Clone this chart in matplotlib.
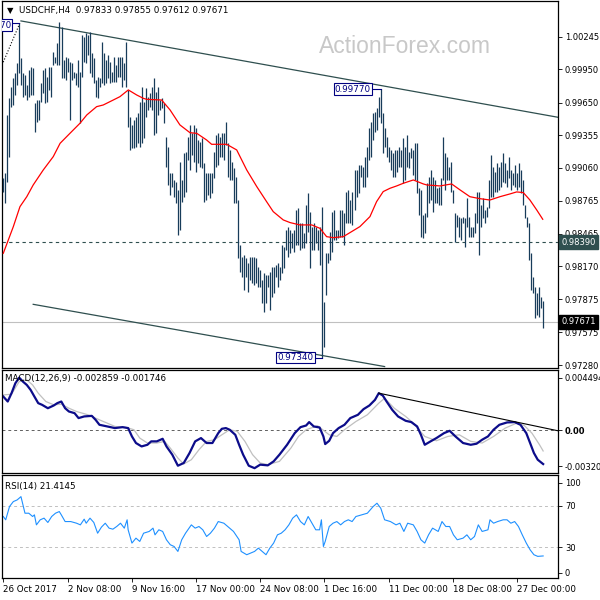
import matplotlib
matplotlib.use("Agg")
import matplotlib.pyplot as plt
import matplotlib.transforms as mtransforms

plt.rcParams['font.family'] = ['DejaVu Sans']

# H4 bars (high / low), left to right
bar_high = [
    0.98966, 0.99011, 0.99538, 0.99688, 0.99794, 0.99869, 0.99914, 1.00004, 1.00370, 1.00050,
    0.99914, 0.99899, 0.99809, 0.99944, 0.99974, 0.99959, 0.99643, 0.99673, 0.99673, 0.99824,
    0.99944, 0.99959, 0.99884, 0.99974, 0.99974, 1.00110, 1.00065, 1.00185, 1.00375, 1.00335,
    1.00034, 1.00065, 1.00050, 1.00019, 1.00004, 0.99929, 0.99914, 1.00034, 0.99929, 1.00260,
    1.00245, 1.00275, 1.00260, 1.00290, 1.00095, 1.00050, 0.99854, 0.99884, 0.99869, 1.00200,
    1.00095, 1.00034, 1.00080, 1.00019, 0.99929, 1.00065, 0.99989, 1.00065, 1.00065, 1.00065,
    1.00004, 1.00200, 0.99764, 0.99523, 0.99448, 0.99493, 0.99523, 0.99553, 0.99658, 0.99794,
    0.99658, 0.99779, 0.99703, 0.99733, 0.99794, 0.99869, 0.99749, 0.99794, 0.99673,
    0.99688, 0.99643, 0.99342, 0.99252, 0.99011, 0.99011, 0.98951, 0.98936, 0.98861, 0.99116,
    0.98951, 0.99192, 0.99207, 0.99342, 0.99448, 0.99372, 0.99448, 0.99417, 0.99312, 0.99297,
    0.99327, 0.99101, 0.99011, 0.99011, 0.99011, 0.99011, 0.99207, 0.99357, 0.99372, 0.99342,
    0.99372, 0.99372, 0.99478, 0.99282, 0.99222, 0.99116, 0.99056, 0.98981, 0.98770, 0.98364,
    0.98259, 0.98274, 0.98244, 0.98198, 0.98259, 0.98259, 0.98259, 0.98244, 0.98168, 0.98138,
    0.98048, 0.98108, 0.98093, 0.98093, 0.98123, 0.98168, 0.98168, 0.98183, 0.98198, 0.98168, 0.98364,
    0.98349, 0.98499, 0.98530, 0.98499, 0.98469, 0.98499, 0.98680, 0.98695, 0.98560,
    0.98560, 0.98469, 0.98725, 0.98831, 0.98665, 0.98530, 0.98560, 0.98530, 0.98499, 0.98530,
    0.98710, 0.97852, 0.98289, 0.98289, 0.98484, 0.98665, 0.98680, 0.98499, 0.98499, 0.98680,
    0.98680, 0.98650, 0.98846, 0.98861, 0.98770, 0.98846, 0.99041, 0.99041, 0.99086, 0.99086,
    0.99071, 0.99162, 0.99252, 0.99417, 0.99478, 0.99553, 0.99568, 0.99598, 0.99703, 0.99770,
    0.99553, 0.99417, 0.99342, 0.99252, 0.99222, 0.99192, 0.99222, 0.99222, 0.99252, 0.99222,
    0.99327, 0.99252, 0.99357, 0.99207, 0.99237, 0.99222, 0.99282, 0.99282, 0.98876, 0.98861, 0.98635,
    0.98650, 0.98921, 0.98981, 0.99041, 0.98981, 0.98951, 0.98876, 0.98891,
    0.98966, 0.99342, 0.99192, 0.99162, 0.99071, 0.99116, 0.98861, 0.98650, 0.98635, 0.98620,
    0.98605, 0.98620, 0.98605, 0.98785, 0.98620, 0.98530, 0.98530, 0.98650, 0.98846, 0.98846,
    0.98725, 0.98785, 0.98680, 0.98710, 0.98951, 0.99177, 0.99071, 0.99026, 0.99101, 0.99071,
    0.99116, 0.99192, 0.99101, 0.99041, 0.99162, 0.99041, 0.99011, 0.99086, 0.99011, 0.99101,
    0.99041, 0.98951, 0.98725, 0.98620, 0.98560, 0.98289, 0.98078, 0.97988, 0.97928, 0.97988,
    0.97897, 0.97855,
]
bar_low = [
    0.98846, 0.98746, 0.98936, 0.99162, 0.99613, 0.99628, 0.99718, 0.99809, 0.99914, 0.99809,
    0.99703, 0.99718, 0.99673, 0.99703, 0.99718, 0.99718, 0.99387, 0.99478, 0.99493, 0.99658,
    0.99733, 0.99643, 0.99658, 0.99764, 0.99703, 0.99989, 1.00004, 0.99989, 0.99989, 0.99869,
    0.99869, 0.99854, 0.99929, 0.99493, 0.99854, 0.99869, 0.99809, 0.99794, 0.99463, 0.99884,
    1.00019, 1.00004, 1.00080, 0.99914, 0.99884, 0.99824, 0.99703, 0.99688, 0.99794, 0.99824,
    0.99809, 0.99824, 0.99869, 0.99824, 0.99839, 0.99839, 0.99839, 0.99884, 0.99884, 0.99794,
    0.99854, 0.99794, 0.99432, 0.99222, 0.99237, 0.99237, 0.99252, 0.99282, 0.99252, 0.99282,
    0.99327, 0.99523, 0.99583, 0.99613, 0.99583, 0.99357, 0.99372, 0.99538, 0.99583,
    0.99598, 0.99463, 0.99071, 0.98906, 0.98815, 0.98891, 0.98800, 0.98740, 0.98454, 0.98499,
    0.98755, 0.98800, 0.98846, 0.99131, 0.99041, 0.99177, 0.99116, 0.99026, 0.99101, 0.99071,
    0.99056, 0.98755, 0.98770, 0.98815, 0.98785, 0.98831, 0.98966, 0.99071, 0.99086, 0.99162,
    0.99162, 0.99131, 0.99267, 0.98981, 0.98951, 0.98951, 0.98740, 0.98740, 0.98244, 0.98123,
    0.98078, 0.97958, 0.98078, 0.97943, 0.98048, 0.98018, 0.98003, 0.98018, 0.97988, 0.97988,
    0.97837, 0.97762, 0.97837, 0.97988, 0.97777, 0.97897, 0.97928, 0.98078, 0.97988, 0.98048, 0.98108,
    0.98153, 0.98319, 0.98259, 0.98289, 0.98334, 0.98304, 0.98364, 0.98364, 0.98319,
    0.98334, 0.98334, 0.98379, 0.98484, 0.98153, 0.98319, 0.98319, 0.98379, 0.98319, 0.98183,
    0.97340, 0.97446, 0.97912, 0.98198, 0.98229, 0.98304, 0.98409, 0.98409, 0.98424, 0.98439,
    0.98439, 0.98364, 0.98560, 0.98560, 0.98560, 0.98545, 0.98680, 0.98800, 0.98831, 0.98981,
    0.98891, 0.98891, 0.98981, 0.99131, 0.99162, 0.99312, 0.99387, 0.99402, 0.99523, 0.99463,
    0.99192, 0.99252, 0.99162, 0.99116, 0.99041, 0.98981, 0.98981, 0.99026, 0.99071, 0.99071,
    0.98921, 0.98951, 0.99071, 0.99056, 0.99147, 0.98996, 0.98951, 0.98831, 0.98635, 0.98439, 0.98424,
    0.98469, 0.98620, 0.98740, 0.98770, 0.98665, 0.98740, 0.98740, 0.98725,
    0.98725, 0.98951, 0.98861, 0.98951, 0.98951, 0.98846, 0.98740, 0.98394, 0.98530, 0.98439,
    0.98409, 0.98560, 0.98349, 0.98530, 0.98439, 0.98439, 0.98439, 0.98469, 0.98560, 0.98274,
    0.98530, 0.98605, 0.98560, 0.98620, 0.98695, 0.98800, 0.98800, 0.98846, 0.98846, 0.98861,
    0.98891, 0.98936, 0.98921, 0.98891, 0.98966, 0.98861, 0.98906, 0.98891, 0.98861, 0.98891,
    0.98831, 0.98725, 0.98605, 0.98530, 0.98229, 0.97958, 0.97928, 0.97702, 0.97732, 0.97717,
    0.97792, 0.97612,
]

# moving average (red), sampled along the curve
ma_x = [0, 5.0, 8.3, 11.7, 14.9, 19.9, 24.9, 28.3, 33.2, 38.2, 41.6, 46.5, 49.8, 54.8, 58.1,
        62.3, 66.5, 69.8, 71.5, 78.9, 83.1, 88.0, 93.0, 96.4, 101.3, 103.8, 111.3, 116.3,
        121.3, 126.3, 131.2, 134.5, 139.5, 142.9, 147.8, 153.7, 157.8, 161.1, 164.4, 169.4,
        172.7, 177.7, 182.7, 186.0, 189.3, 192.7, 196.0, 199.3, 204.3, 209.3, 211.0, 217.6,
        223.4, 227.6, 232.5, 237.5, 242.5, 247.5, 252.5, 255.8, 259.1, 262.4, 265.8, 268.8]
ma_val = [0.98289, 0.98530, 0.98710, 0.98800, 0.98906, 0.99041, 0.99162, 0.99282, 0.99372,
          0.99463, 0.99538, 0.99613, 0.99628, 0.99673, 0.99703, 0.99764, 0.99718, 0.99688,
          0.99679, 0.99673, 0.99583, 0.99448, 0.99378, 0.99372, 0.99312, 0.99273, 0.99273,
          0.99222, 0.99041, 0.98891, 0.98755, 0.98665, 0.98590, 0.98566, 0.98545, 0.98545,
          0.98514, 0.98439, 0.98430, 0.98439, 0.98475, 0.98530, 0.98620, 0.98755, 0.98846,
          0.98876, 0.98897, 0.98921, 0.98951, 0.98915, 0.98906, 0.98897, 0.98915, 0.98861,
          0.98800, 0.98782, 0.98770, 0.98800, 0.98825, 0.98843, 0.98837, 0.98770, 0.98680,
          0.98596]

# trend channel and marked levels
upper_line_x = [8.8, 276.4]
upper_line_y = [1.00387, 0.99517]
lower_line_x = [14.9, 190.0]
lower_line_y = [0.97828, 0.97266]
old_line_x = [-0.6, 8.3]
old_line_y = [0.99990, 1.00370]
support_level = 0.98390
last_close = 0.97671
marked_high = (188, 0.99770)
marked_low = (159, 0.97340)
marked_start = (8, 1.00370)

price_ticks = [1.00245, 0.99950, 0.99650, 0.99355, 0.99060, 0.98765, 0.98465,
               0.98170, 0.97875, 0.97575, 0.97280]

# MACD(12,26,9)
macd_x = [0, 2.2, 4.1, 6.0, 7.9, 9.8, 11.7, 13.6, 15.5, 17.4, 19.3, 22.2, 25.1, 26.9, 28.9,
          30.8, 32.7, 35.5, 37.5, 40.3, 44.1, 46.0, 47.9, 51.8, 55.6, 59.4, 62.2, 64.1, 66.1,
          68.9, 71.8, 73.7, 76.5, 79.4, 81.3, 84.2, 87.0, 89.9, 92.8, 95.6, 98.5, 101.3, 104.2,
          107.1, 108.9, 110.9, 112.8, 115.6, 117.5, 119.5, 122.3, 125.2, 128.0, 131.8, 134.7,
          137.6, 141.4, 145.2, 148.1, 150.9, 152.4, 154.7, 157.6, 159.5, 160.4, 162.4, 164.3,
          167.1, 170.0, 172.9, 176.7, 179.5, 182.4, 185.2, 187.1, 189.1, 191.0, 193.8, 196.7,
          200.5, 203.3, 206.2, 208.1, 210.0, 212.9, 215.8, 219.6, 222.4, 225.3, 229.1, 232.9,
          235.8, 238.6, 241.5, 244.3, 247.2, 251.0, 254.8, 257.7, 260.6, 262.5, 264.4, 266.3,
          268.2, 269]
macd_val = [0.00288, 0.00246, 0.00317, 0.00401, 0.004494, 0.00415, 0.00387, 0.00345, 0.00288,
            0.00232, 0.00218, 0.00189, 0.00212, 0.00232, 0.00246, 0.00189, 0.00161, 0.00147,
            0.00105, 0.00119, 0.00124, 0.00090, 0.00048, 0.00034, 0.00020, 0.00028, 0.00020,
            -0.00051, -0.00107, -0.00136, -0.00122, -0.00093, -0.00093, -0.00071, -0.00136,
            -0.00206, -0.00300, -0.00277, -0.00192, -0.00093, -0.00065, -0.00107, -0.00107,
            -0.00023, 0.00014, 0.00020, 0.00006, -0.00037, -0.00122, -0.00206, -0.00300,
            -0.003209, -0.00291, -0.00297, -0.00263, -0.00206, -0.00122, -0.00023, 0.00028,
            0.00042, 0.00071, 0.00034, 0.00025, -0.00051, -0.00116, -0.00088, -0.00023,
            0.00020, 0.00048, 0.00105, 0.00133, 0.00181, 0.00212, 0.00260, 0.00317, 0.00297,
            0.00246, 0.00175, 0.00119, 0.00082, 0.00071, 0.00034, -0.00037, -0.00122,
            -0.00093, -0.00065, -0.00023, -0.00003, -0.00051, -0.00107, -0.00122, -0.00113,
            -0.00079, -0.00051, 0.00006, 0.00048, 0.00068, 0.00071, 0.00048, -0.00023,
            -0.00107, -0.00192, -0.00249, -0.00275, -0.002859]
signal_x = [0, 4.1, 7.9, 11.7, 14.6, 17.4, 21.2, 25.1, 28.9, 32.7, 36.5, 42.2, 47.9, 51.8,
            55.6, 61.3, 65.1, 68.0, 71.8, 76.5, 80.4, 83.2, 87.0, 89.9, 93.7, 97.5, 101.3,
            105.2, 108.9, 112.8, 116.6, 120.4, 124.2, 128.0, 131.8, 137.6, 143.3, 147.1,
            150.9, 156.6, 162.4, 166.2, 170.0, 175.7, 181.4, 187.1, 190.0, 194.8, 200.5,
            204.3, 210.0, 215.8, 221.5, 227.2, 232.9, 238.6, 244.3, 250.1, 255.8, 259.6,
            263.4, 267.2, 269]
signal_val = [0.00302, 0.00308, 0.00415, 0.00430, 0.00387, 0.00317, 0.00246, 0.00218,
              0.00223, 0.00189, 0.00161, 0.00133, 0.00090, 0.00062, 0.00034, 0.00025, 0.00006,
              -0.00065, -0.00107, -0.00107, -0.00093, -0.00150, -0.00235, -0.00285, -0.00249,
              -0.00164, -0.00093, -0.00079, -0.00037, 0.00006, -0.00008, -0.00093, -0.00206,
              -0.00277, -0.00291, -0.00263, -0.00150, -0.00051, 0.00006, 0.00040, -0.00037,
              -0.00051, 0.00006, 0.00076, 0.00133, 0.00232, 0.00274, 0.00189, 0.00119, 0.00062,
              -0.00051, -0.00088, -0.00051, -0.00037, -0.00093, -0.00107, -0.00051, 0.00020,
              0.00062, 0.00042, -0.00023, -0.00122, -0.001746]
macd_trend_x = [187.1, 276.4]
macd_trend_y = [0.00317, -0.00003]

# RSI(14)
rsi_x = [0, 1.2, 3.1, 5.0, 6.9, 8.8, 9.8, 10.8, 12.7, 14.6, 15.5, 16.5, 18.4, 20.3, 22.2, 24.1,
         26.0, 27.9, 28.9, 30.8, 33.6, 36.5, 38.4, 40.3, 41.3, 43.2, 45.1, 47.0, 48.9, 50.8,
         52.7, 54.6, 56.5, 58.4, 60.3, 61.7, 62.2, 64.1, 66.1, 68.0, 69.9, 72.7, 74.6, 75.6,
         77.5, 79.4, 81.3, 83.2, 85.1, 87.0, 88.9, 90.8, 93.7, 95.6, 97.5, 99.4, 101.3, 103.2,
         105.2, 107.1, 109.9, 112.8, 114.7, 117.5, 118.5, 121.3, 123.3, 125.2, 127.1, 129.0,
         130.9, 132.8, 134.7, 136.6, 138.5, 140.4, 142.3, 144.2, 146.1, 148.1, 150.0, 151.9,
         153.8, 155.7, 157.6, 158.5, 159.5, 160.4, 162.4, 164.3, 166.2, 168.1, 170.0, 171.9,
         173.8, 175.7, 178.6, 181.4, 184.3, 186.2, 188.1, 190.0, 192.9, 195.7, 197.6, 199.6,
         201.5, 204.3, 206.2, 208.1, 210.0, 211.9, 213.9, 216.7, 218.6, 220.5, 222.4, 224.3,
         226.2, 229.1, 231.0, 232.9, 234.8, 236.7, 238.6, 241.5, 242.5, 244.3, 246.3, 249.1,
         251.0, 252.9, 254.8, 256.7, 258.6, 260.6, 262.5, 264.4, 266.3, 269]
rsi_val = [59.7, 56.5, 69.4, 74.2, 75.8, 79.0, 71.0, 62.9, 62.9, 59.7, 61.3, 51.6, 56.5, 58.1,
           53.9, 59.7, 62.9, 64.5, 61.3, 54.8, 54.8, 53.2, 51.6, 57.1, 53.2, 58.1, 53.9, 43.5,
           49.4, 53.2, 48.4, 47.4, 50.0, 53.2, 48.4, 56.5, 46.8, 33.9, 38.7, 35.5, 43.5, 45.2,
           48.4, 41.9, 46.8, 45.2, 37.1, 32.3, 30.6, 25.8, 37.1, 43.5, 51.6, 48.4, 50.0, 46.8,
           40.3, 43.5, 48.4, 54.8, 53.2, 48.4, 45.2, 37.1, 25.8, 22.6, 24.2, 25.8, 29.0, 25.8,
           22.6, 29.0, 33.9, 41.9, 43.5, 46.8, 51.6, 58.1, 61.3, 54.8, 51.6, 59.7, 53.2, 46.8,
           46.8, 56.5, 30.6, 35.5, 50.0, 53.2, 54.8, 51.6, 54.8, 56.5, 54.8, 59.7, 61.3, 62.9,
           69.4, 72.6, 67.7, 56.5, 54.8, 51.6, 53.2, 45.2, 53.2, 51.6, 45.2, 37.1, 33.9, 41.9,
           48.4, 45.2, 54.8, 50.0, 50.0, 41.9, 37.1, 38.7, 41.9, 37.1, 40.3, 51.6, 45.2, 46.8,
           56.5, 53.2, 54.8, 56.5, 56.5, 53.2, 54.8, 50.0, 41.9, 33.9, 27.4, 22.6, 21.0, 21.41]

date_ticks = [0, 32, 64, 96, 128, 160, 192, 224, 256]
date_labels = ['26 Oct 2017', '2 Nov 08:00', '9 Nov 16:00', '17 Nov 00:00', '24 Nov 08:00',
               '1 Dec 16:00', '11 Dec 00:00', '18 Dec 08:00', '27 Dec 00:00']

FS = 6.3
TFS = 6.0
bar_color = '#183c5a'
slate = '#2f4f4f'
navy = '#000080'

fig = plt.figure(figsize=(6, 6), dpi=100)
ax = fig.add_axes([2/600, 1-368/600, 556/600, 367/600])
ax2 = fig.add_axes([2/600, 1-473/600, 556/600, 103/600])
ax3 = fig.add_axes([2/600, 1-578/600, 556/600, 103/600])

for a in (ax, ax2, ax3):
    a.set_xlim(-0.65, 276.4)
    for s in a.spines.values():
        s.set_linewidth(0.9)
        s.set_color('black')
    a.yaxis.tick_right()
    a.tick_params(axis='y', direction='out', length=3, width=0.6, labelsize=TFS, pad=2)
    a.tick_params(axis='x', bottom=False, labelbottom=False)

# ---- main price panel ----
ax.set_ylim(0.97253, 1.00567)
ax.text(0.725, 0.875, 'ActionForex.com', transform=ax.transAxes, fontsize=16.5,
        family=['Liberation Sans', 'DejaVu Sans'], color='#c8c8c8', ha='center', va='center', zorder=0)

ax.axhline(support_level, color=slate, ls=(0, (3, 3)), lw=0.8, zorder=1)
ax.axhline(last_close, color='#c0c0c0', lw=0.8, zorder=1)
ax.plot(upper_line_x, upper_line_y, color=slate, lw=0.9, zorder=2)
ax.plot(lower_line_x, lower_line_y, color=slate, lw=0.9, zorder=2)
ax.plot(old_line_x, old_line_y, color='black', ls=':', lw=0.8, zorder=2)

n = len(bar_high)
ax.vlines(range(n), bar_low, bar_high, color=bar_color, lw=0.9, zorder=3)
ax.plot(ma_x, ma_val, color='red', lw=0.9, zorder=4)

ax.set_yticks(price_ticks)
ax.set_yticklabels([f'{v:.5f}' for v in price_ticks])

lbl_box = dict(boxstyle='square,pad=0.15', fc='white', ec=navy, lw=0.8)
ax.plot([183.4, marked_high[0]], [marked_high[1]] * 2, color=navy, lw=0.8, zorder=4)
ax.text(183.2, marked_high[1], '0.99770', color=navy, fontsize=FS, ha='right', va='center',
        bbox=lbl_box, zorder=5)
ax.plot([154.9, marked_low[0]], [marked_low[1]] * 2, color=navy, lw=0.8, zorder=4)
ax.text(154.7, marked_low[1] + 0.00008, '0.97340', color=navy, fontsize=FS, ha='right',
        va='center', bbox=lbl_box, zorder=5)
ax.plot([3.9, marked_start[0]], [marked_start[1]] * 2, color=navy, lw=0.8, zorder=4)
ax.text(3.8, marked_start[1] - 0.0002, '1.00370', color=navy, fontsize=FS, ha='right',
        va='center', bbox=lbl_box, zorder=5, clip_on=True)

yt = mtransforms.blended_transform_factory(ax.transAxes, ax.transData)
ax.text(1.006, support_level, '0.98390', transform=yt, fontsize=TFS, color='white',
        ha='left', va='center', bbox=dict(boxstyle='square,pad=0.3', fc=slate, ec=slate),
        zorder=6, clip_on=False)
ax.text(1.006, last_close, '0.97671', transform=yt, fontsize=TFS, color='white',
        ha='left', va='center', bbox=dict(boxstyle='square,pad=0.3', fc='black', ec='black'),
        zorder=6, clip_on=False)

ax.text(0.015, 0.974, '\u25bc', transform=ax.transAxes, fontsize=6, ha='center', va='center')
ax.text(0.030, 0.975, 'USDCHF,H4  0.97833 0.97855 0.97612 0.97671', transform=ax.transAxes,
        fontsize=FS, ha='left', va='center')

# ---- MACD panel ----
ax2.set_ylim(-0.00362, 0.00514)
ax2.axhline(0, color='#606060', ls=(0, (3, 3)), lw=0.7)
ax2.plot(signal_x, signal_val, color='#c0c0c0', lw=0.9)
ax2.plot(macd_x, macd_val, color='#0c0c8a', lw=1.6)
ax2.plot(macd_trend_x, macd_trend_y, color='black', lw=0.8)
ax2.set_yticks([0.004494, 0.0, -0.00305])
ax2.set_yticklabels(['0.004494', '0.00', '-0.003209'])
ax2.get_yticklabels()[1].set_fontweight('bold')
ax2.text(0.006, 0.913, 'MACD(12,26,9) -0.002859 -0.001746', transform=ax2.transAxes,
         fontsize=FS, ha='left', va='center')

# ---- RSI panel ----
ax3.set_ylim(0, 100)
ax3.axhline(70, color='#c0c0c0', ls=(0, (3, 3)), lw=0.7)
ax3.axhline(30, color='#c0c0c0', ls=(0, (3, 3)), lw=0.7)
ax3.plot(rsi_x, rsi_val, color='#1e90ff', lw=0.8)
ax3.set_yticks([92.5, 70, 30, 5])
ax3.set_yticklabels(['100', '70', '30', '0'])
ax3.text(0.006, 0.893, 'RSI(14) 21.4145', transform=ax3.transAxes, fontsize=FS,
         ha='left', va='center')

ax3.set_xticks(date_ticks)
ax3.set_xticklabels(date_labels, ha='left')
ax3.tick_params(axis='x', bottom=True, labelbottom=True, direction='out', length=3,
                width=0.6, labelsize=FS, pad=2)

fig.savefig('out.png', dpi=100)
